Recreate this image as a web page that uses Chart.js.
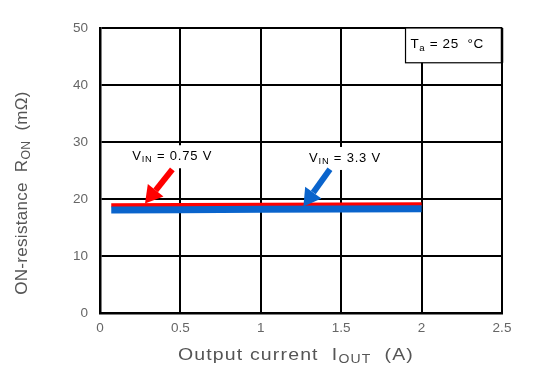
<!DOCTYPE html>
<html>
<head>
<meta charset="utf-8">
<script src="https://cdn.jsdelivr.net/npm/chart.js@4"></script>
<style>
  html, body { margin: 0; padding: 0; background: #fff; }
  #wrap { width: 535px; height: 369px; }
</style>
</head>
<body>
<div id="wrap"><canvas id="ronChart" width="535" height="369"></canvas></div>
<script>
// Data
const currentA = [0.07, 0.5, 1.0, 1.5, 2.0];
const ron075 = [18.9, 18.95, 19.0, 19.05, 19.1];
const ron33 = [18.05, 18.1, 18.2, 18.25, 18.3];
const xTicks = [0, 0.5, 1, 1.5, 2, 2.5];
const yTicks = [0, 10, 20, 30, 40, 50];

// Annotations (data units): [tailX, tailY, tipX, tipY]
const arrow075 = [0.45, 25.2, 0.28, 19.2];
const arrow33 = [1.43, 25.2, 1.265, 18.7];
// label anchors (left x, centre y)
const label075 = [0.2, 27.5];
const label33 = [1.3, 27.2];
// Ta box corners [x0, y0, x1, y1]
const taBox = [1.9, 43.9, 2.5, 50];

const RED = '#ff0000';
const BLUE = '#0a64cc';
const FONT = "'Liberation Sans', Arial, sans-serif";

// draw text with subscript parts, returns width
const drawParts = (ctx, parts, x, y, size, measureOnly, spacing) => {
    let cx = x;
    ctx.letterSpacing = (spacing || 0) + 'px';
    parts.forEach(p => {
        const s = p.sub ? size * 0.72 : size;
        ctx.font = s + 'px ' + FONT;
        if (!measureOnly) ctx.fillText(p.t, cx, p.sub ? y + size * 0.28 : y);
        cx += ctx.measureText(p.t).width;
    });
    ctx.letterSpacing = '0px';
    return cx - x;
};

const drawArrow = (ctx, x1, y1, x2, y2, color) => {
    const ang = Math.atan2(y2 - y1, x2 - x1);
    const headLen = 17, headW = 10;
    const bx = x2 - headLen * Math.cos(ang), by = y2 - headLen * Math.sin(ang);
    ctx.save();
    ctx.strokeStyle = color;
    ctx.fillStyle = color;
    ctx.lineWidth = 6;
    ctx.beginPath();
    ctx.moveTo(x1, y1);
    ctx.lineTo(bx, by);
    ctx.stroke();
    ctx.beginPath();
    ctx.moveTo(x2, y2);
    ctx.lineTo(bx + headW * Math.sin(ang), by - headW * Math.cos(ang));
    ctx.lineTo(bx - headW * Math.sin(ang), by + headW * Math.cos(ang));
    ctx.closePath();
    ctx.fill();
    ctx.restore();
};

const overlay = {
    id: 'overlay',
    afterDatasetsDraw(chart) {
        const { ctx, scales: { x, y } } = chart;
        ctx.save();
        ctx.textBaseline = 'middle';

        // white label backgrounds + labels
        const lab = (pos, parts) => {
            const lx = x.getPixelForValue(pos[0]), ly = y.getPixelForValue(pos[1]);
            const w = drawParts(ctx, parts, lx, ly, 13, true, 0.8);
            ctx.fillStyle = '#fff';
            ctx.fillRect(lx - 3, ly - 11, w + 6, 23);
            ctx.fillStyle = '#000';
            drawParts(ctx, parts, lx, ly, 13, false, 0.8);
        };
        lab(label075, [{ t: 'V' }, { t: 'IN', sub: true }, { t: ' = 0.75 V' }]);
        lab(label33, [{ t: 'V' }, { t: 'IN', sub: true }, { t: ' = 3.3 V' }]);

        drawArrow(ctx, x.getPixelForValue(arrow075[0]), y.getPixelForValue(arrow075[1]),
            x.getPixelForValue(arrow075[2]), y.getPixelForValue(arrow075[3]), RED);
        drawArrow(ctx, x.getPixelForValue(arrow33[0]), y.getPixelForValue(arrow33[1]),
            x.getPixelForValue(arrow33[2]), y.getPixelForValue(arrow33[3]), BLUE);

        // Ta box
        const bx0 = x.getPixelForValue(taBox[0]), by0 = y.getPixelForValue(taBox[1]);
        const bx1 = x.getPixelForValue(taBox[2]), by1 = y.getPixelForValue(taBox[3]);
        ctx.fillStyle = '#fff';
        ctx.fillRect(bx0, by1, bx1 - bx0, by0 - by1);
        ctx.strokeStyle = '#000';
        ctx.lineWidth = 1.2;
        ctx.strokeRect(bx0, by1, bx1 - bx0, by0 - by1);
        ctx.lineWidth = 2.5;
        ctx.beginPath();
        ctx.moveTo(bx1, by1);
        ctx.lineTo(bx1, by0);
        ctx.stroke();
        ctx.fillStyle = '#000';
        drawParts(ctx, [{ t: 'T' }, { t: 'a', sub: true }, { t: ' = 25  \u00b0C' }], bx0 + 5, (by0 + by1) / 2 - 1, 13.5, false, 0.6);

        // axis titles
        ctx.fillStyle = '#555';
        const xt = [{ t: 'Output current  I' }, { t: 'OUT', sub: true }, { t: '  (A)' }];
        const xw = drawParts(ctx, xt, 0, 0, 17, true, 1);
        const sx = 236 / xw;
        ctx.save();
        ctx.translate(296, 355);
        ctx.scale(sx, 1);
        drawParts(ctx, xt, -xw / 2, 0, 17, false, 1);
        ctx.restore();

        const yt = [{ t: 'ON-resistance  R' }, { t: 'ON', sub: true }, { t: '  (m\u03a9)' }];
        const yw = drawParts(ctx, yt, 0, 0, 17, true, 0.3);
        ctx.translate(22, 193);
        ctx.rotate(-Math.PI / 2);
        drawParts(ctx, yt, -yw / 2, 0, 17, false, 0.3);
        ctx.restore();
    }
};

new Chart(document.getElementById('ronChart'), {
    type: 'line',
    data: {
        datasets: [
            {
                label: 'VIN = 3.3 V',
                data: currentA.map((c, i) => ({ x: c, y: ron33[i] })),
                borderColor: BLUE,
                borderWidth: 7,
                pointRadius: 0,
                order: 1
            },
            {
                label: 'VIN = 0.75 V',
                data: currentA.map((c, i) => ({ x: c, y: ron075[i] })),
                borderColor: RED,
                borderWidth: 4,
                pointRadius: 0,
                order: 2
            }
        ]
    },
    options: {
        responsive: false,
        animation: false,
        layout: { padding: { left: 62, right: 33, top: 28, bottom: 26 } },
        plugins: { legend: { display: false }, tooltip: { enabled: false } },
        scales: {
            x: {
                type: 'linear',
                min: 0,
                max: 2.5,
                afterBuildTicks: s => { s.ticks = xTicks.map(v => ({ value: v })); },
                afterFit: s => { s.height = 30; },
                ticks: { color: '#666', font: { size: 13.5, family: FONT }, padding: 7, callback: v => String(v) },
                grid: { color: '#000', lineWidth: 2, drawTicks: false },
                border: { color: '#000', width: 2.5 }
            },
            y: {
                min: 0,
                max: 50,
                afterBuildTicks: s => { s.ticks = yTicks.map(v => ({ value: v })); },
                afterFit: s => { s.width = 38; },
                ticks: { color: '#666', font: { size: 13.5, family: FONT }, padding: 12 },
                grid: { color: '#000', lineWidth: 2, drawTicks: false },
                border: { color: '#000', width: 2.5 }
            }
        }
    },
    plugins: [overlay]
});
</script>
</body>
</html>
